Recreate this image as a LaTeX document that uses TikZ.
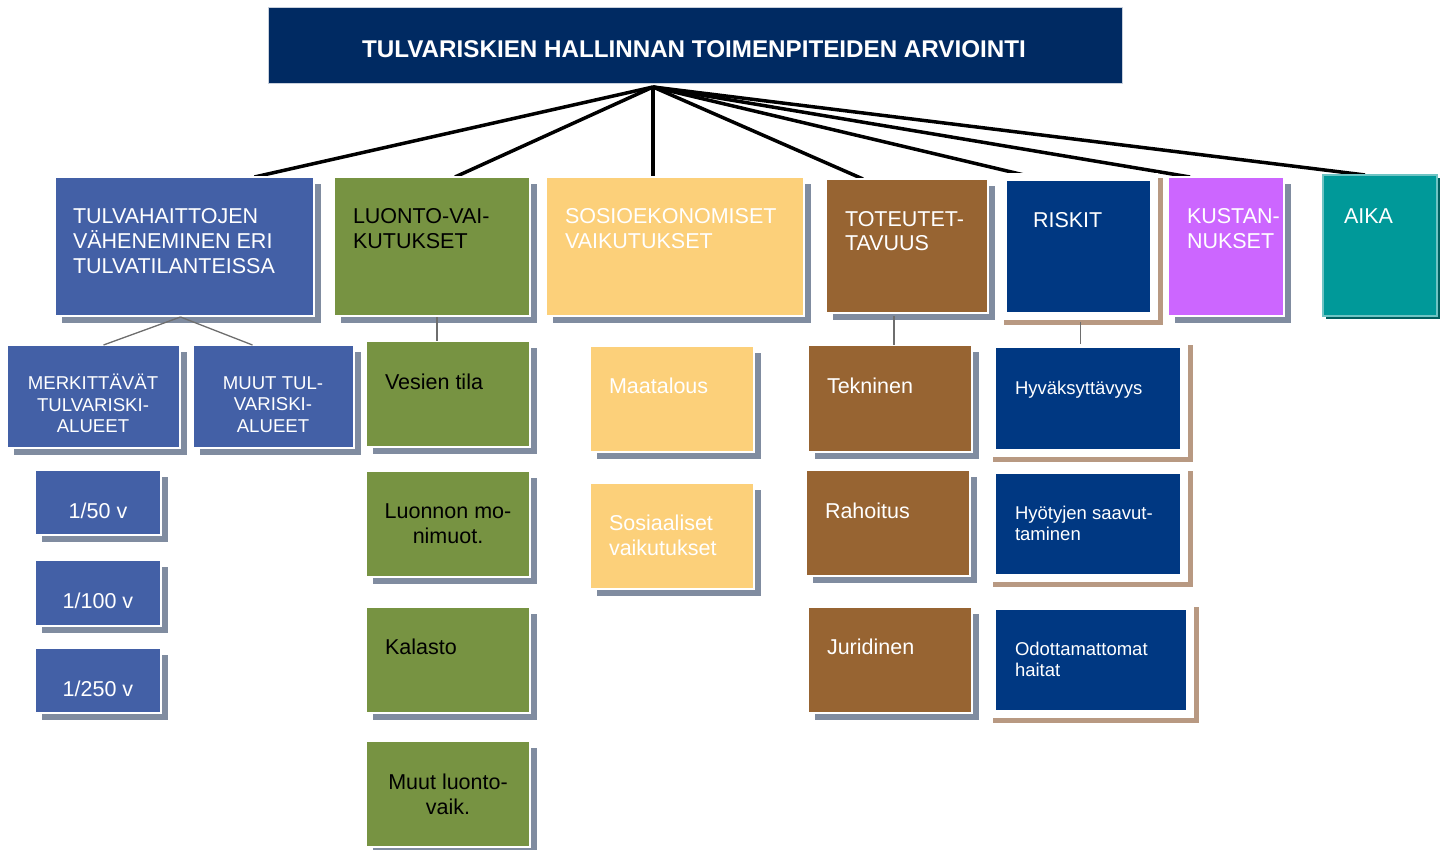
\documentclass[tikz,border=0pt]{standalone}
\usepackage{fontspec}
\setmainfont{Liberation Sans}
\usetikzlibrary{shadows}

\definecolor{titleblue}{RGB}{0,42,98}
\definecolor{midblue}{RGB}{67,96,166}
\definecolor{leafgreen}{RGB}{119,147,66}
\definecolor{sand}{RGB}{252,208,122}
\definecolor{bark}{RGB}{151,100,50}
\definecolor{deepnavy}{RGB}{0,56,130}
\definecolor{violet}{RGB}{204,102,255}
\definecolor{sea}{RGB}{0,153,153}
\definecolor{sealight}{RGB}{110,196,196}
\definecolor{seadark}{RGB}{0,95,95}
\definecolor{shgrey}{RGB}{128,140,160}
\definecolor{tan}{RGB}{184,153,130}
\definecolor{linkgrey}{RGB}{110,110,110}

\pgfdeclarelayer{bg}
\pgfsetlayers{bg,main}

% \panel{name}{style}{x1}{y1}{x2}{y2}: a box spanning the given corners
\newcommand\panel[6]{%
  \node[#2, minimum width={(#5)-(#3)}, minimum height={(#6)-(#4)}]
    (#1) at ({((#3)+(#5))/2},{((#4)+(#6))/2}) {};}

\tikzset{
  box/.style={inner sep=0pt, outer sep=0pt, draw=white, line width=1.2pt},
  greyshadow/.style={general shadow={fill=shgrey, draw=none, shadow xshift=7pt, shadow yshift=-7pt}},
  bluebox/.style={box, fill=midblue, greyshadow},
  greenbox/.style={box, fill=leafgreen, greyshadow},
  yellowbox/.style={box, fill=sand, greyshadow},
  brownbox/.style={box, fill=bark, greyshadow},
  violetbox/.style={box, fill=violet, greyshadow},
  tealbox/.style={box, fill=sea, draw=sealight, line width=1.5pt,
    general shadow={fill=seadark, draw=none, shadow xshift=3pt, shadow yshift=-3pt}},
  navybox/.style={inner sep=0pt, outer sep=0pt, fill=deepnavy, draw=white, line width=8pt,
    general shadow={fill=tan, draw=tan, line width=8pt, shadow xshift=5pt, shadow yshift=-5pt}},
  txt/.style={inner sep=0pt, outer sep=0pt, text=white, font=\fontsize{21.5}{25}\selectfont},
  smalltxt/.style={txt, font=\fontsize{18.6}{21.5}\selectfont},
  navytxt/.style={txt, font=\fontsize{18.5}{21}\selectfont},
  trunk/.style={line width=3.5pt, black},
  branch/.style={line width=1.3pt, linkgrey},
}

\begin{document}
\begin{tikzpicture}[x=1pt, y=-1pt]
\useasboundingbox (0,0) rectangle (1448,850);

% heading
\node[fill=titleblue, draw={rgb,255:red,200;green,208;blue,220}, line width=1pt,
      minimum width=854, minimum height=76, inner sep=0pt] (title) at (695,46) {};
\node[text=white, inner sep=0pt, font=\bfseries\fontsize{24.2}{27}\selectfont]
      (titletext) at (694,49) {TULVARISKIEN HALLINNAN TOIMENPITEIDEN ARVIOINTI};
\coordinate (apex) at (653,87);

% first level
\panel{tulva}{bluebox}{55}{177}{314}{316}
\panel{luonto}{greenbox}{334}{177}{530}{316}
\panel{sosio}{yellowbox}{546}{177}{804}{316}
\panel{tot}{brownbox}{826}{179}{988}{313}
\panel{riskit}{navybox}{1003}{177}{1154}{316}
\panel{kustan}{violetbox}{1168}{177}{1284}{316}
\panel{aika}{tealbox}{1323}{175}{1437}{316}

% flood areas and return periods
\panel{merk}{bluebox}{7}{345}{180}{448}
\panel{muut}{bluebox}{193}{345}{354}{448}
\panel{p50}{bluebox}{35}{470}{161}{535}
\panel{p100}{bluebox}{35}{560}{161}{626}
\panel{p250}{bluebox}{35}{648}{161}{713}

% nature effects
\panel{vesi}{greenbox}{366}{341}{530}{447}
\panel{luonnon}{greenbox}{366}{471}{530}{577}
\panel{kala}{greenbox}{366}{607}{530}{713}
\panel{muutl}{greenbox}{366}{741}{530}{847}

% socio-economic effects
\panel{maa}{yellowbox}{590}{346}{754}{452}
\panel{sos}{yellowbox}{590}{483}{754}{589}

% feasibility
\panel{tek}{brownbox}{808}{345}{972}{452}
\panel{rah}{brownbox}{806}{470}{970}{576}
\panel{jur}{brownbox}{808}{607}{972}{713}

% risks
\panel{hyv}{navybox}{992}{344}{1184}{453}
\panel{hyo}{navybox}{992}{470}{1184}{578}
\panel{odo}{navybox}{992}{606}{1190}{714}

% labels
\node[txt, anchor=north west, align=left] (l-tulva) at (73,208.5)
  {TULVAHAITTOJEN\\VÄHENEMINEN ERI\\TULVATILANTEISSA};
\node[txt, text=black, anchor=north west, align=left] (l-luonto) at (353,208.5)
  {LUONTO-VAI-\\KUTUKSET};
\node[txt, anchor=north west, align=left] (l-sosio) at (565,208.5)
  {SOSIOEKONOMISET\\VAIKUTUKSET};
\node[txt, anchor=north west, align=left, font=\fontsize{21.5}{24}\selectfont] (l-tot) at (845,211.5)
  {TOTEUTET-\\TAVUUS};
\node[txt, anchor=north west] (l-riskit) at (1033,212.5) {RISKIT};
\node[txt, anchor=north west, align=left] (l-kustan) at (1187,208.5) {KUSTAN-\\NUKSET};
\node[txt, anchor=north west] (l-aika) at (1344,208.5) {AIKA};

\node[smalltxt, anchor=north, align=center] (l-merk) at (93,374)
  {MERKITTÄVÄT\\TULVARISKI-\\ALUEET};
\node[smalltxt, anchor=north, align=center] (l-muut) at (273,376.5)
  {MUUT TUL-\\VARISKI-\\ALUEET};
\node[txt, anchor=base] (l-p50) at (98,518.5) {1/50 v};
\node[txt, anchor=base] (l-p100) at (98,608.5) {1/100 v};
\node[txt, anchor=base] (l-p250) at (98,696.5) {1/250 v};

\node[txt, text=black, anchor=base west] (l-vesi) at (385,389.5) {Vesien tila};
\node[txt, text=black, anchor=north, align=center, font=\fontsize{21.5}{24.5}\selectfont] (l-luonnon) at (448,504)
  {Luonnon mo-\\nimuot.};
\node[txt, text=black, anchor=base west] (l-kala) at (385,654.5) {Kalasto};
\node[txt, text=black, anchor=north, align=center] (l-muutl) at (448,773.5)
  {Muut luonto-\\vaik.};

\node[txt, anchor=base west] (l-maa) at (609,393.5) {Maatalous};
\node[txt, anchor=north west, align=left] (l-sos) at (609,514.5) {Sosiaaliset\\vaikutukset};

\node[txt, anchor=base west] (l-tek) at (827,393.5) {Tekninen};
\node[txt, anchor=base west] (l-rah) at (825,518.5) {Rahoitus};
\node[txt, anchor=base west] (l-jur) at (827,654.5) {Juridinen};

\node[navytxt, anchor=base west] (l-hyv) at (1015,394.5) {Hyväksyttävyys};
\node[navytxt, anchor=north west, align=left] (l-hyo) at (1015,506.5) {Hyötyjen saavut-\\taminen};
\node[navytxt, anchor=north west, align=left] (l-odo) at (1015,642) {Odottamattomat\\haitat};

% trunk connectors, kept behind the boxes
\begin{pgfonlayer}{bg}
  \draw[trunk] (apex) -- ([xshift=70pt]tulva.north);
  \draw[trunk] (apex) -- ([xshift=23pt]luonto.north);
  \draw[trunk] (apex) -- ([xshift=-22pt]sosio.north);
  \draw[trunk] (apex) -- ([xshift=-44pt]tot.north);
  \draw[trunk] (apex) -- ([xshift=-46pt]riskit.north);
  \draw[trunk] (apex) -- ([xshift=-36pt]kustan.north);
  \draw[trunk] (apex) -- ([xshift=-15pt]aika.north);
\end{pgfonlayer}

% branch connectors, over the shadows
\draw[branch] ([xshift=-4pt,yshift=-1pt]tulva.south) -- ([xshift=10pt]merk.north);
\draw[branch] ([xshift=-4pt,yshift=-1pt]tulva.south) -- ([xshift=-21pt]muut.north);
\draw[branch] ([xshift=5pt,yshift=-1pt]luonto.south) -- ([xshift=5pt]luonto.south |- vesi.north);
\draw[branch] ([xshift=-13pt,yshift=-3pt]tot.south) -- ([xshift=-13pt]tot.south |- tek.north);
\draw[branch] ([xshift=2pt,yshift=-6pt]riskit.south) -- ([xshift=2pt]riskit.south |- hyv.north);
\end{tikzpicture}
\end{document}
